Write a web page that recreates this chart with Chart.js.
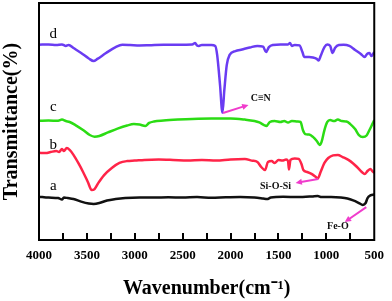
<!DOCTYPE html>
<html>
<head>
<meta charset="utf-8">
<script src="https://cdn.jsdelivr.net/npm/chart.js@4/dist/chart.umd.min.js"></script>
<style>
  html, body { margin: 0; padding: 0; background: #fff; }
  #wrap { width: 392px; height: 301px; }
</style>
</head>
<body>
<div id="wrap"><canvas id="ftirChart" width="392" height="301"></canvas></div>
<script>
// wavenumbers (cm-1) and transmittance (arbitrary, offset) for each curve
const waveD = [4000, 3900, 3820, 3760, 3720, 3690, 3640, 3560, 3480, 3430, 3390, 3300, 3200, 3130, 3050, 2950, 2850, 2700, 2550, 2400, 2370, 2350, 2330, 2300, 2200, 2160, 2140, 2110, 2085, 2065, 2040, 2010, 1950, 1880, 1800, 1720, 1660, 1630, 1600, 1560, 1480, 1400, 1380, 1360, 1330, 1280, 1250, 1230, 1180, 1140, 1100, 1080, 1060, 1020, 990, 960, 935, 910, 870, 820, 760, 700, 640, 600, 575, 550, 530, 500];
const transD = [82.4, 82.5, 82.3, 82.5, 81.9, 82.3, 81.0, 78.9, 76.6, 75.5, 76.4, 78.9, 81.4, 82.4, 82.3, 82.1, 82.2, 82.4, 82.4, 82.5, 83.1, 82.1, 81.9, 82.3, 82.3, 81.9, 78.1, 65.4, 53.7, 63.3, 73.8, 78.1, 79.7, 80.4, 81.2, 81.9, 81.6, 79.3, 81.4, 82.3, 82.5, 82.5, 83.1, 81.9, 82.3, 82.1, 79.3, 77.2, 77.2, 77.0, 76.4, 75.7, 77.6, 81.4, 82.5, 81.9, 78.9, 81.0, 82.3, 82.4, 81.9, 80.2, 78.5, 77.2, 78.5, 78.9, 77.6, 79.3];

const waveC = [4000, 3900, 3800, 3760, 3720, 3680, 3620, 3540, 3470, 3420, 3370, 3280, 3180, 3080, 3010, 2950, 2890, 2850, 2800, 2700, 2550, 2400, 2200, 2000, 1850, 1750, 1700, 1650, 1625, 1590, 1540, 1480, 1440, 1400, 1360, 1300, 1270, 1245, 1220, 1180, 1140, 1100, 1070, 1050, 1020, 990, 960, 920, 880, 840, 790, 750, 700, 660, 620, 580, 550, 520, 500];
const transC = [50.3, 50.4, 50.3, 50.8, 50.2, 49.8, 48.5, 46.4, 44.3, 43.6, 43.9, 45.4, 47.0, 48.3, 48.9, 48.7, 48.1, 49.4, 50.0, 50.4, 50.8, 51.1, 51.3, 51.3, 50.8, 50.2, 49.6, 48.5, 48.1, 49.8, 50.2, 49.8, 50.2, 49.6, 50.2, 50.0, 49.8, 46.4, 44.7, 44.5, 43.5, 41.8, 40.1, 41.4, 46.4, 49.8, 50.6, 50.2, 50.8, 50.2, 50.0, 48.9, 46.8, 44.3, 43.5, 44.1, 46.4, 48.9, 50.6];

const waveB = [4000, 3930, 3880, 3820, 3790, 3760, 3740, 3710, 3680, 3640, 3590, 3540, 3490, 3450, 3420, 3380, 3320, 3240, 3160, 3080, 3000, 2900, 2750, 2600, 2450, 2300, 2150, 2000, 1850, 1780, 1720, 1680, 1640, 1610, 1570, 1540, 1500, 1460, 1420, 1400, 1390, 1375, 1330, 1290, 1260, 1240, 1200, 1150, 1110, 1090, 1060, 1020, 980, 930, 880, 830, 770, 720, 680, 630, 600, 570, 540, 520, 500];
const transB = [36.8, 36.7, 37.1, 37.6, 37.1, 38.4, 37.6, 38.8, 38.0, 35.9, 32.5, 28.7, 24.5, 21.1, 21.5, 24.1, 27.4, 30.4, 32.5, 33.3, 33.5, 33.8, 34.0, 33.8, 33.5, 33.8, 33.5, 34.0, 34.2, 33.5, 32.9, 30.8, 29.5, 32.9, 33.3, 32.5, 33.8, 33.5, 34.0, 33.3, 29.7, 33.8, 34.4, 34.2, 32.1, 29.5, 28.7, 27.8, 26.6, 26.0, 28.7, 32.5, 34.6, 35.7, 35.9, 35.0, 33.8, 32.3, 30.8, 28.7, 27.8, 29.1, 30.0, 29.1, 28.3];

const waveA = [4000, 3900, 3800, 3760, 3740, 3700, 3640, 3560, 3480, 3430, 3370, 3290, 3200, 3100, 2950, 2800, 2650, 2500, 2350, 2200, 2050, 1900, 1750, 1660, 1620, 1580, 1450, 1300, 1150, 1090, 1050, 950, 850, 780, 720, 660, 620, 590, 570, 540, 500];
const transA = [18.3, 17.9, 17.7, 17.1, 17.9, 17.7, 17.3, 16.2, 15.4, 15.2, 15.6, 16.7, 17.3, 17.7, 17.9, 17.9, 18.0, 17.9, 18.1, 17.8, 18.0, 18.1, 17.9, 17.5, 17.3, 17.9, 18.2, 18.1, 18.4, 18.6, 18.1, 18.1, 17.9, 17.5, 16.7, 15.6, 14.8, 15.6, 17.7, 18.8, 19.2];

const curveNames = ['a', 'b', 'c', 'd'];
const curveColors = ['#111111', '#ff2448', '#2bdc14', '#6a3cf2'];
const labelPos = [[3850, 22.8], [3850, 39.9], [3850, 55.9], [3850, 87.1]];
const xTicks = [4000, 3500, 3000, 2500, 2000, 1500, 1000, 500];
const minorTicks = [3750, 3500, 3250, 3000, 2750, 2500, 2250, 2000, 1750, 1500, 1250, 1000, 750];

// peak markers: arrow start, arrow end, text position
const peakNotes = [
    { text: 'C\u2261N', from: [2079, 53.6], to: [1813, 57.0], at: [1790, 59.9], align: 'left' },
    { text: 'Si-O-Si', from: [1085, 25.7], to: [1321, 24.1], at: [1530, 22.8], align: 'center' },
    { text: 'Fe-O', from: [583, 13.9], to: [808, 7.6], at: [880, 5.9], align: 'center' }
];

function toPoints(w, t) {
    return w.map(function(x, i) { return { x: x, y: t[i] }; });
}

const seriesData = [toPoints(waveA, transA), toPoints(waveB, transB), toPoints(waveC, transC), toPoints(waveD, transD)];

const framePlugin = {
    id: 'frame',
    afterDraw(chart) {
        const ctx = chart.ctx;
        const area = chart.chartArea;
        const xs = chart.scales.x;
        const ys = chart.scales.y;
        ctx.save();
        // box
        ctx.strokeStyle = '#000';
        ctx.lineWidth = 2;
        ctx.strokeRect(area.left, area.top, area.right - area.left, area.bottom - area.top);

        // inward tick marks every 250
        ctx.fillStyle = '#000';
        minorTicks.forEach(function(v) {
            const px = Math.round(xs.getPixelForValue(v));
            ctx.fillRect(px - 1, area.bottom - 7, 2, 7);
        });

        // curve letters
        ctx.font = '15px "Liberation Serif"';
        ctx.textAlign = 'center';
        ctx.textBaseline = 'middle';
        curveNames.forEach(function(n, i) {
            ctx.fillText(n, xs.getPixelForValue(labelPos[i][0]), ys.getPixelForValue(labelPos[i][1]));
        });

        // arrows and peak names
        peakNotes.forEach(function(p) {
            const x1 = xs.getPixelForValue(p.from[0]), y1 = ys.getPixelForValue(p.from[1]);
            const x2 = xs.getPixelForValue(p.to[0]), y2 = ys.getPixelForValue(p.to[1]);
            const ang = Math.atan2(y2 - y1, x2 - x1);
            ctx.strokeStyle = '#f03ccc';
            ctx.fillStyle = '#f03ccc';
            ctx.lineWidth = 2;
            ctx.beginPath();
            ctx.moveTo(x1, y1);
            ctx.lineTo(x2 - 4 * Math.cos(ang), y2 - 4 * Math.sin(ang));
            ctx.stroke();
            ctx.beginPath();
            ctx.moveTo(x2, y2);
            ctx.lineTo(x2 - 7 * Math.cos(ang - 0.45), y2 - 7 * Math.sin(ang - 0.45));
            ctx.lineTo(x2 - 7 * Math.cos(ang + 0.45), y2 - 7 * Math.sin(ang + 0.45));
            ctx.closePath();
            ctx.fill();

            ctx.fillStyle = '#111';
            ctx.font = 'bold 10px "Liberation Serif"';
            ctx.textAlign = p.align;
            ctx.fillText(p.text, xs.getPixelForValue(p.at[0]), ys.getPixelForValue(p.at[1]));
        });
        ctx.restore();
    }
};

document.addEventListener('DOMContentLoaded', function() {
    const ctx = document.getElementById('ftirChart').getContext('2d');
    new Chart(ctx, {
        type: 'line',
        data: {
            datasets: seriesData.map(function(d, i) {
                return {
                    label: curveNames[i],
                    data: d,
                    borderColor: curveColors[i],
                    borderWidth: 2.5,
                    pointRadius: 0,
                    cubicInterpolationMode: 'monotone',
                    fill: false
                };
            })
        },
        options: {
            responsive: false,
            animation: false,
            layout: { padding: { top: 3, right: 12, left: 0, bottom: 0 } },
            scales: {
                x: {
                    type: 'linear',
                    reverse: true,
                    min: 500,
                    max: 4000,
                    afterBuildTicks: function(scale) {
                        scale.ticks = xTicks.map(function(v) { return { value: v }; });
                    },
                    afterFit: function(scale) { scale.height = 61; },
                    grid: { display: false, drawTicks: false },
                    border: { display: false },
                    ticks: {
                        autoSkip: false,
                        maxRotation: 0,
                        padding: 8,
                        color: '#000',
                        font: { family: 'Liberation Serif', size: 13, weight: 'bold' },
                        callback: function(v) { return String(v); }
                    },
                    title: {
                        display: true,
                        text: 'Wavenumber(cm\u207B\u00B9)',
                        color: '#000',
                        padding: 0,
                        font: { family: 'Liberation Serif', size: 20, weight: 'bold' }
                    }
                },
                y: {
                    min: 0,
                    max: 100,
                    afterFit: function(scale) { scale.width = 39; },
                    grid: { display: false, drawTicks: false },
                    border: { display: false },
                    ticks: { display: false },
                    title: {
                        display: true,
                        text: 'Transmittance(%)',
                        color: '#000',
                        padding: 0,
                        font: { family: 'Liberation Serif', size: 20, weight: 'bold' }
                    }
                }
            },
            plugins: {
                legend: { display: false },
                tooltip: { enabled: false }
            }
        },
        plugins: [framePlugin]
    });
});
</script>
</body>
</html>
